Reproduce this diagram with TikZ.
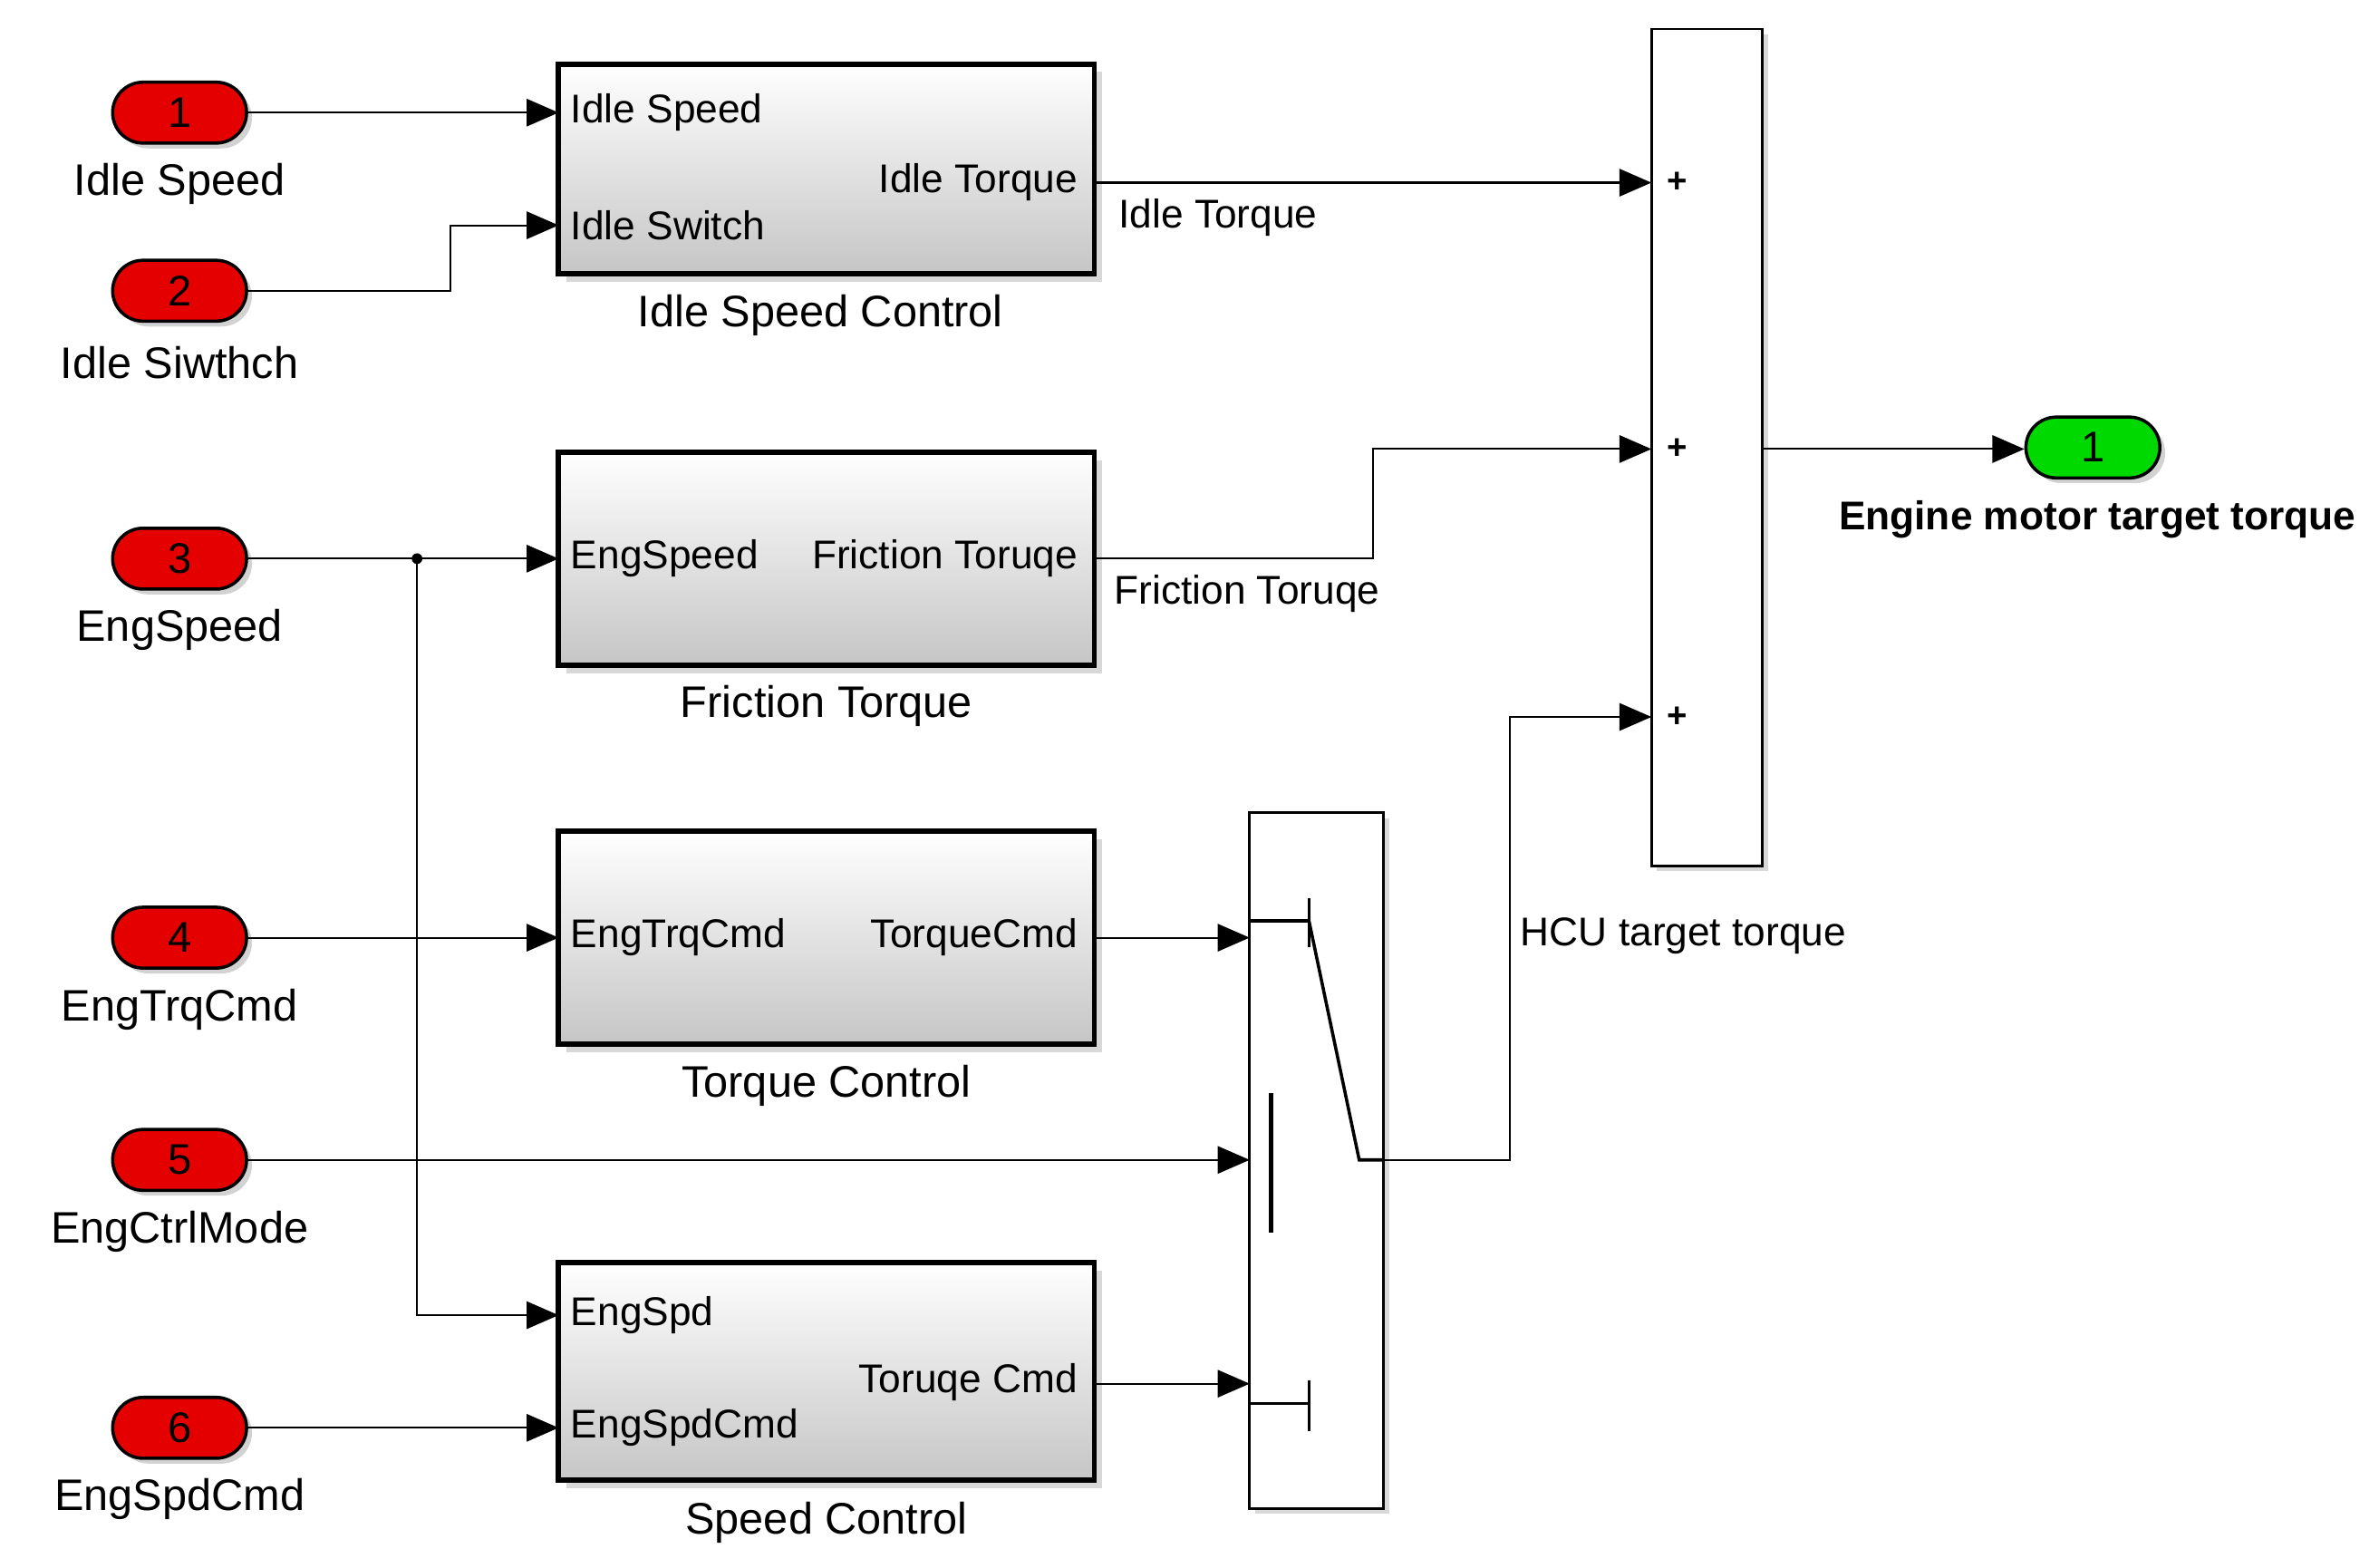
\documentclass[tikz,border=0pt]{standalone}
\usepackage{fontspec}
\setmainfont{Liberation Sans}
\usetikzlibrary{arrows.meta,shadows}
\begin{document}
\begin{tikzpicture}[x=0.02cm,y=-0.02cm,
 inport/.style={draw=black,line width=1.2pt,fill=red!90!black,rounded corners=0.4cm,minimum width=1.76cm,minimum height=0.8cm,font=\fontsize{16}{18}\selectfont,drop shadow={shadow xshift=2pt,shadow yshift=-2pt,fill=gray!70}},
 outport/.style={inport,fill=green!85!black},
 blk/.style={draw=black,line width=2pt,top color=white,bottom color=gray!45,drop shadow={shadow xshift=3pt,shadow yshift=-3pt,fill=gray!60}},
 lbl/.style={font=\fontsize{16.5}{18}\selectfont},
 plbl/.style={font=\fontsize{15}{17}\selectfont,inner sep=1pt},
 ar/.style={-{Triangle[length=0.42cm,width=0.36cm]},line width=0.7pt},
 ln/.style={line width=0.7pt}]
\useasboundingbox (0,0) rectangle (1563,1030);
% inports
\foreach \n/\y/\t in {1/74/Idle Speed,2/191/Idle Siwthch,3/367/EngSpeed,4/616/EngTrqCmd,5/762/EngCtrlMode,6/938/EngSpdCmd}{
 \node[inport] (in\n) at (118,\y) {\n};
 \node[lbl] (lin\n) at (118,\y+47) {\t};
}
% blocks
\node[blk,minimum width=7.04cm,minimum height=2.76cm] (isc) at (543,111) {};
\node[blk,minimum width=7.04cm,minimum height=2.8cm] (ft) at (543,367) {};
\node[blk,minimum width=7.04cm,minimum height=2.8cm] (tc) at (543,616) {};
\node[blk,minimum width=7.04cm,minimum height=2.86cm] (sc) at (543,901) {};
\node[lbl] at (539,207) {Idle Speed Control};
\node[lbl] at (543,464) {Friction Torque};
\node[lbl] at (543,713) {Torque Control};
\node[lbl] at (543,1000) {Speed Control};
% port labels
\node[plbl,anchor=west] at (373,74) {Idle Speed};
\node[plbl,anchor=west] at (373,148) {Idle Switch};
\node[plbl,anchor=east] at (710,120) {Idle Torque};
\node[plbl,anchor=west] at (373,367) {EngSpeed};
\node[plbl,anchor=east] at (710,367) {Friction Toruqe};
\node[plbl,anchor=west] at (373,616) {EngTrqCmd};
\node[plbl,anchor=east] at (710,616) {TorqueCmd};
\node[plbl,anchor=west] at (373,864) {EngSpd};
\node[plbl,anchor=west] at (373,938) {EngSpdCmd};
\node[plbl,anchor=east] at (710,908) {Toruqe Cmd};
% sum
\node[draw=black,line width=1pt,fill=white,minimum width=1.46cm,minimum height=11cm,drop shadow={shadow xshift=2pt,shadow yshift=-2pt,fill=gray!60}] (sum) at (1121.5,294) {};
\foreach \y in {120,295,471}{\node[font=\bfseries\fontsize{13}{13}\selectfont] at (1102,\y) {+};}
% switch
\node[draw=black,line width=1pt,fill=white,minimum width=1.76cm,minimum height=9.14cm,drop shadow={shadow xshift=2pt,shadow yshift=-2pt,fill=gray!60}] (sw) at (865,762.5) {};
\draw[line width=1.2pt] (821,605)--(860,605) (860,590)--(860,622);
\draw[line width=1.6pt] (835,718)--(835,810);
\draw[line width=1.2pt] (821,922)--(860,922) (860,907)--(860,940);
\draw[line width=1.2pt] (860,605)--(893,762)--(909,762);
% outport
\node[outport] (out1) at (1375,294) {1};
\node[font=\bfseries\fontsize{15}{17}\selectfont] at (1378,341) {Engine motor target torque};
% coordinates
\coordinate (sw1) at (821,616); \coordinate (sw2) at (821,762); \coordinate (sw3) at (821,909);
\coordinate (swo) at (909,762);
\coordinate (s1) at (1085,120); \coordinate (s2) at (1085,295); \coordinate (s3) at (1085,471);
\coordinate (so) at (1158,295);
% connectors
\draw[ar] (in1.east) -- (367,74);
\draw[ar] (in2.east) -- (296,191) -- (296,148) -- (367,148);
\draw[ar] (in3.east) -- (367,367);
\fill (274,367) circle (0.07cm);
\draw[ar] (274,367) -- (274,864) -- (367,864);
\draw[ar] (in4.east) -- (367,616);
\draw[ar] (in5.east) -- (sw2);
\draw[ar] (in6.east) -- (367,938);
\draw[ar] (719,120) -- (s1);
\draw[ar] (719,367) -- (902,367) -- (902,295) -- (s2);
\draw[ar] (719,616) -- (sw1);
\draw[ar] (719,909) -- (sw3);
\draw[ar] (swo) -- (992,762) -- (992,471) -- (s3);
\draw[ar] (so) -- (1330,295);
\node[plbl,anchor=west] at (733,143) {Idle Torque};
\node[plbl,anchor=west] at (730,390) {Friction Toruqe};
\node[plbl,anchor=west] at (997,615) {HCU target torque};
\end{tikzpicture}
\end{document}
